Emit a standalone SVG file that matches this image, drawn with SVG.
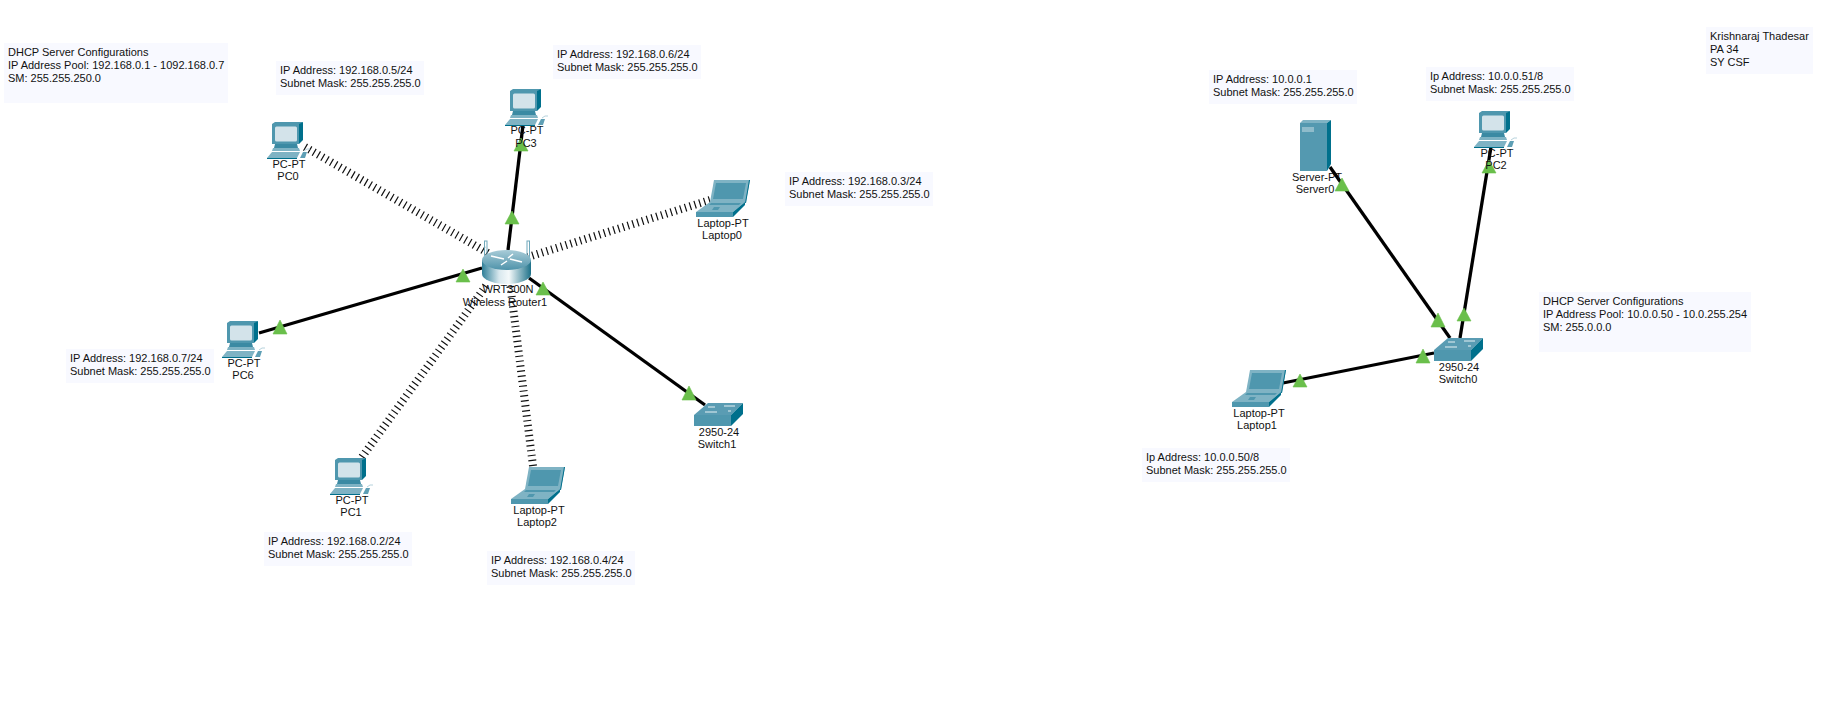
<svg xmlns="http://www.w3.org/2000/svg" xmlns:xlink="http://www.w3.org/1999/xlink" width="1847" height="702" viewBox="0 0 1847 702">
<style>
text{font-family:"Liberation Sans",Arial,sans-serif;font-size:11px;fill:#111}
.lab{text-anchor:middle}
.note{fill:#f8f9ff}
.wire{stroke:#000;stroke-width:3.300;fill:none}
.air{stroke:#111;stroke-width:8;stroke-dasharray:1.200 3.800;fill:none}
.tri{fill:#6abf4b;stroke:#6abf4b;stroke-width:.6}
</style>
<defs>
<linearGradient id="rb" x1="0" x2="1" y1="0" y2="0"><stop offset="0" stop-color="#2f7f98"/><stop offset=".35" stop-color="#d8e8ee"/><stop offset=".55" stop-color="#f4f9fa"/><stop offset="1" stop-color="#1d7189"/></linearGradient>
<linearGradient id="rt" x1="0" x2="0" y1="0" y2="1"><stop offset="0" stop-color="#a9ccd8"/><stop offset="1" stop-color="#4f93aa"/></linearGradient>
<symbol id="pc" width="44" height="37" viewBox="0 0 44 37" overflow="visible">
<path d="M5 2 8 0H36L32 3H5Z" fill="#4f97ae"/>
<path d="M32 2 36 0V18L32 22Z" fill="#00708c"/>
<rect x="5" y="2" width="27" height="20" fill="#4f97ae"/>
<rect x="8" y="4.500" width="22" height="15" rx="1.500" fill="#d3e3ea"/>
<path d="M8 22H30L31 26H7Z" fill="#3b8aa3"/>
<path d="M6 26H32L33 29H5Z" fill="#7fb3c4"/>
<path d="M5 30H33L30 36H0Z" fill="#7fb3c4"/>
<path d="M0 36H30V37H0Z" fill="#00708c"/>
<path d="M33 36 36 30H40L38 36Z" fill="#5e9fb5"/>
<path d="M37 29Q40 26 43 27" fill="none" stroke="#b6d2dc" stroke-width="1"/>
</symbol>
<symbol id="laptop" width="54" height="37" viewBox="0 0 54 37" overflow="visible">
<path d="M18 0H54L50 22H14Z" fill="#7fb3c4"/>
<path d="M53 0H54L50 23H49Z" fill="#00708c"/>
<path d="M20 3H50L47 19H17Z" fill="#4f97ae"/>
<path d="M14 22H49L37 32H0Z" fill="#7fb3c4"/>
<path d="M15 23H45L43 25H13Z" fill="#4f97ae"/>
<path d="M0 32H37V37H0Z" fill="#4f97ae"/>
<path d="M37 32 49 22V25L37 37Z" fill="#00708c"/>
<path d="M18 27H24L22 30H16Z" fill="#4f97ae"/>
</symbol>
<symbol id="switch" width="49" height="23" viewBox="0 0 49 23" overflow="visible">
<path d="M0 12 14 0H49L37 12Z" fill="#5a9cb3"/>
<rect y="12" width="37" height="11" fill="#4f97ae"/>
<path d="M37 12 49 0V11L37 23Z" fill="#00708c"/>
<path d="M14 4H21M30 3H41M11 9H23M34 8H37" stroke="#e6f1f4" stroke-width="1" fill="none"/>
</symbol>
<symbol id="server" width="31" height="51" viewBox="0 0 31 51" overflow="visible">
<path d="M0 3 3 0H31L27 3Z" fill="#7fb3c4"/>
<rect y="3" width="27" height="48" fill="#5499b0"/>
<path d="M27 3 31 0V44L27 51Z" fill="#00708c"/>
<rect x="2" y="7" width="12" height="5" fill="#8fbccb"/>
</symbol>
<symbol id="router" width="49" height="43" viewBox="0 0 49 43" overflow="visible">
<rect x="2.500" y="0" width="2.500" height="18" fill="none" stroke="#6fa8bb" stroke-width="1"/>
<rect x="45" y="0" width="2.500" height="18" fill="none" stroke="#6fa8bb" stroke-width="1"/>
<path d="M0 19V33A24.500 10 0 0 0 49 33V19Z" fill="url(#rb)"/>
<ellipse cx="24.500" cy="19" rx="24.500" ry="10" fill="url(#rt)"/>
<path d="M9 15 22 18M40 21 28 18M19 24 25 20M31 13 26 17" stroke="#fff" stroke-width="1.500" fill="none"/>
</symbol>
</defs>
<rect width="1847" height="702" fill="#fff"/>
<g id="connectors">
<path class="air" d="M305 147 488 253"/>
<path class="air" d="M710 200 528 257"/>
<path class="air" d="M362 457 488 283"/>
<path class="air" d="M533 466 510 283"/>
<path class="wire" d="M523 125 508 250"/>
<path class="wire" d="M482 268 259 333"/>
<path class="wire" d="M529 278 705 405"/>
<path class="wire" d="M1330 167 1450 338"/>
<path class="wire" d="M1491 147 1460 338"/>
<path class="wire" d="M1283 383 1434 353"/>
<path class="tri" d="M521 138 528 151H514Z"/>
<path class="tri" d="M512 211 519 224H505Z"/>
<path class="tri" d="M463 269 470 282H456Z"/>
<path class="tri" d="M280 320 287 334H273Z"/>
<path class="tri" d="M543 282 550 295H536Z"/>
<path class="tri" d="M689 386 696 400H682Z"/>
<path class="tri" d="M1342 178 1349 191H1335Z"/>
<path class="tri" d="M1438 313 1445 327H1431Z"/>
<path class="tri" d="M1489 160 1496 173H1482Z"/>
<path class="tri" d="M1464 308 1471 321H1457Z"/>
<path class="tri" d="M1300 374 1307 387H1293Z"/>
<path class="tri" d="M1423 349 1430 363H1416Z"/>
</g>
<g id="PC0"><use xlink:href="#pc" href="#pc" x="267" y="122"/><text class="lab" x="289" y="168">PC-PT</text><text class="lab" x="288" y="180">PC0</text></g>
<g id="PC3"><use xlink:href="#pc" href="#pc" x="505" y="89"/><text class="lab" x="527" y="134">PC-PT</text><text class="lab" x="526" y="147">PC3</text></g>
<g id="PC6"><use xlink:href="#pc" href="#pc" x="222" y="321"/><text class="lab" x="244" y="367">PC-PT</text><text class="lab" x="243" y="379">PC6</text></g>
<g id="PC1"><use xlink:href="#pc" href="#pc" x="330" y="458"/><text class="lab" x="352" y="504">PC-PT</text><text class="lab" x="351" y="516">PC1</text></g>
<g id="PC2"><use xlink:href="#pc" href="#pc" x="1474" y="111"/><text class="lab" x="1497" y="157">PC-PT</text><text class="lab" x="1496" y="169">PC2</text></g>
<g id="Laptop0"><use xlink:href="#laptop" href="#laptop" x="696" y="180"/><text class="lab" x="723" y="227">Laptop-PT</text><text class="lab" x="722" y="239">Laptop0</text></g>
<g id="Laptop2"><use xlink:href="#laptop" href="#laptop" x="511" y="467"/><text class="lab" x="539" y="514">Laptop-PT</text><text class="lab" x="537" y="526">Laptop2</text></g>
<g id="Laptop1"><use xlink:href="#laptop" href="#laptop" x="1232" y="370"/><text class="lab" x="1259" y="417">Laptop-PT</text><text class="lab" x="1257" y="429">Laptop1</text></g>
<g id="Switch1"><use xlink:href="#switch" href="#switch" x="694" y="403"/><text class="lab" x="719" y="436">2950-24</text><text class="lab" x="717" y="448">Switch1</text></g>
<g id="Switch0"><use xlink:href="#switch" href="#switch" x="1434" y="338"/><text class="lab" x="1459" y="371">2950-24</text><text class="lab" x="1458" y="383">Switch0</text></g>
<g id="Server0"><use xlink:href="#server" href="#server" x="1300" y="120"/><text class="lab" x="1317" y="181">Server-PT</text><text class="lab" x="1315" y="193">Server0</text></g>
<g id="WirelessRouter1"><use xlink:href="#router" href="#router" x="482" y="241"/><text class="lab" x="508" y="293">WRT300N</text><text class="lab" x="505" y="306">Wireless Router1</text></g>
<g id="note-dhcp1"><rect class="note" x="4" y="43" width="224" height="60"/><text x="8" y="56">DHCP Server Configurations</text><text x="8" y="69">IP Address Pool: 192.168.0.1 - 1092.168.0.7</text><text x="8" y="82">SM: 255.255.250.0</text></g>
<g id="note-pc0"><rect class="note" x="276" y="61" width="148" height="34"/><text x="280" y="74">IP Address: 192.168.0.5/24</text><text x="280" y="87">Subnet Mask: 255.255.255.0</text></g>
<g id="note-pc3"><rect class="note" x="553" y="45" width="148" height="34"/><text x="557" y="58">IP Address: 192.168.0.6/24</text><text x="557" y="71">Subnet Mask: 255.255.255.0</text></g>
<g id="note-laptop0"><rect class="note" x="785" y="172" width="148" height="34"/><text x="789" y="185">IP Address: 192.168.0.3/24</text><text x="789" y="198">Subnet Mask: 255.255.255.0</text></g>
<g id="note-pc6"><rect class="note" x="66" y="349" width="148" height="34"/><text x="70" y="362">IP Address: 192.168.0.7/24</text><text x="70" y="375">Subnet Mask: 255.255.255.0</text></g>
<g id="note-pc1"><rect class="note" x="264" y="532" width="148" height="34"/><text x="268" y="545">IP Address: 192.168.0.2/24</text><text x="268" y="558">Subnet Mask: 255.255.255.0</text></g>
<g id="note-laptop2"><rect class="note" x="487" y="551" width="148" height="34"/><text x="491" y="564">IP Address: 192.168.0.4/24</text><text x="491" y="577">Subnet Mask: 255.255.255.0</text></g>
<g id="note-server0"><rect class="note" x="1209" y="70" width="148" height="34"/><text x="1213" y="83">IP Address: 10.0.0.1</text><text x="1213" y="96">Subnet Mask: 255.255.255.0</text></g>
<g id="note-pc2"><rect class="note" x="1426" y="67" width="148" height="34"/><text x="1430" y="80">Ip Address: 10.0.0.51/8</text><text x="1430" y="93">Subnet Mask: 255.255.255.0</text></g>
<g id="note-laptop1"><rect class="note" x="1142" y="448" width="148" height="34"/><text x="1146" y="461">Ip Address: 10.0.0.50/8</text><text x="1146" y="474">Subnet Mask: 255.255.255.0</text></g>
<g id="note-dhcp2"><rect class="note" x="1539" y="292" width="212" height="60"/><text x="1543" y="305">DHCP Server Configurations</text><text x="1543" y="318">IP Address Pool: 10.0.0.50 - 10.0.255.254</text><text x="1543" y="331">SM: 255.0.0.0</text></g>
<g id="note-author"><rect class="note" x="1706" y="27" width="107" height="47"/><text x="1710" y="40">Krishnaraj Thadesar</text><text x="1710" y="53">PA 34</text><text x="1710" y="66">SY CSF</text></g>
</svg>
